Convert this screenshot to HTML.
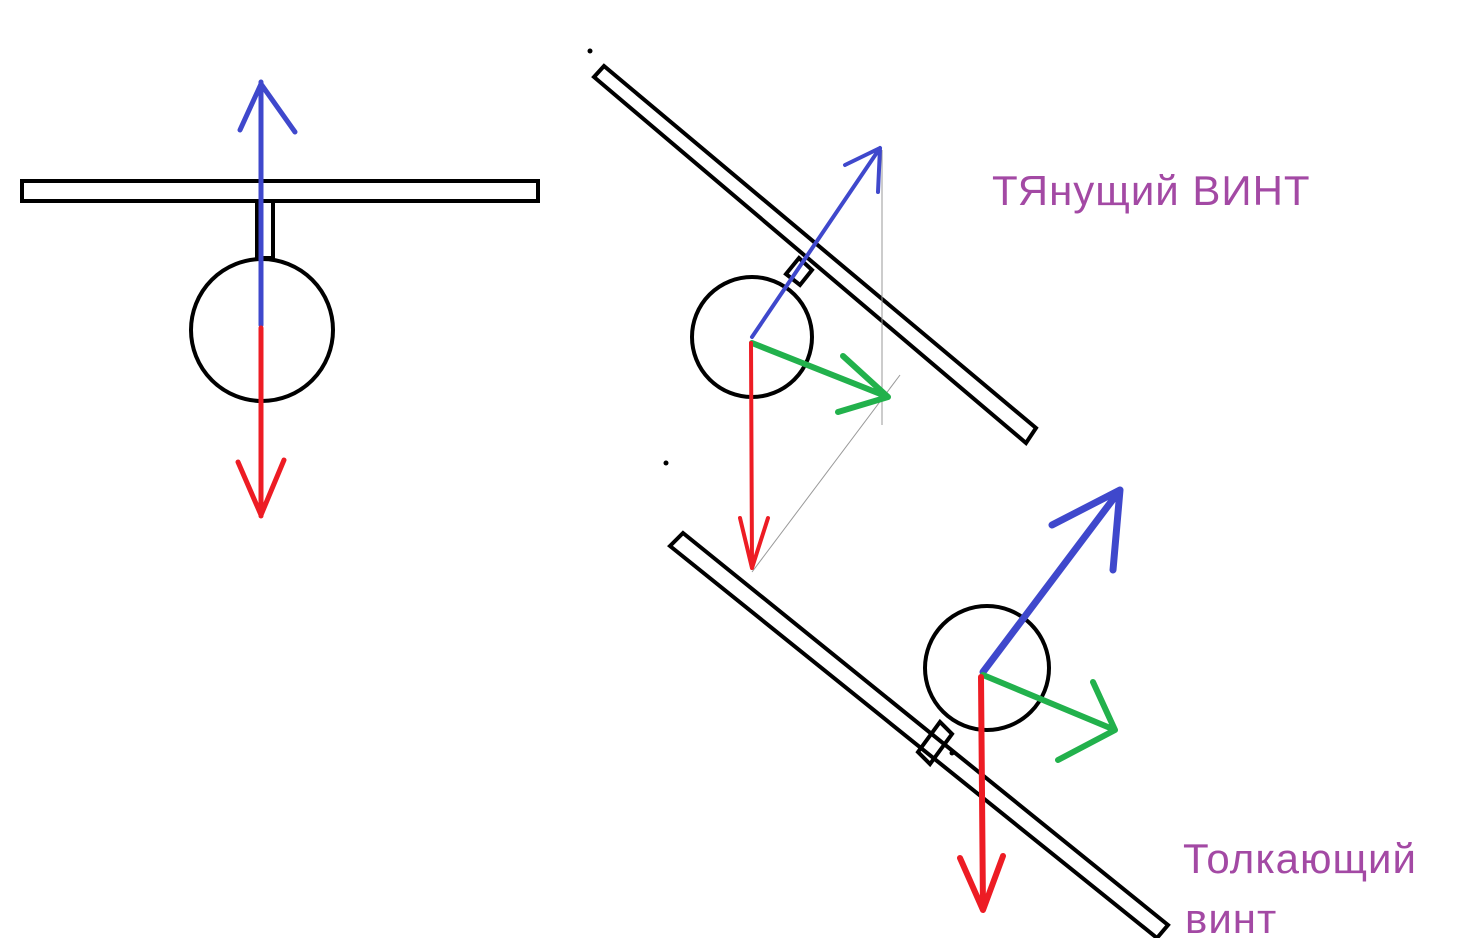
<!DOCTYPE html>
<html><head><meta charset="utf-8"><style>
html,body{margin:0;padding:0;background:#fff;}
svg{display:block}
text{font-family:"Liberation Sans","DejaVu Sans",sans-serif;fill:#a349a4;}
</style></head><body>
<svg width="1466" height="938" viewBox="0 0 1466 938" xmlns="http://www.w3.org/2000/svg">
<g fill="none" stroke="#000" stroke-width="4" stroke-linejoin="miter">
  <rect x="22" y="181" width="516" height="20"/>
  <rect x="257" y="201" width="16" height="57"/>
  <circle cx="262" cy="330" r="71"/>
  <polygon points="594,77 604,66 1036,428 1026,443"/>
  <polygon points="786,274 799,258 812,270 800,285"/>
  <circle cx="752" cy="337" r="60"/>
  <polygon points="670,546 683,533 1168,925 1157,938"/>
  <polygon points="918,752 940,722 952,734 930,764"/>
  <circle cx="987" cy="668" r="62"/>
</g>
<g fill="#000">
  <circle cx="590" cy="51" r="2.5"/>
  <circle cx="666" cy="463" r="2.5"/>
  <circle cx="952" cy="753" r="2.5"/>
</g>
<g stroke="#999" stroke-width="1" fill="none">
  <line x1="882" y1="150" x2="882" y2="425"/>
  <line x1="752" y1="572" x2="900" y2="375"/>
</g>
<g fill="none" stroke-linecap="round" stroke-linejoin="round">
  <path d="M261,325 L261,82 M240,130 L261,84 L295,132" stroke="#3f48cc" stroke-width="5"/>
  <path d="M261,328 L261,516 M238,462 L261,515 L284,460" stroke="#ed1c24" stroke-width="5"/>
  <path d="M752,337 L880,148 M845,165 L880,148 L878,192" stroke="#3f48cc" stroke-width="4"/>
  <path d="M752,343 L888,397 M843,356 L888,397 L838,412" stroke="#22b14c" stroke-width="6"/>
  <path d="M751,343 L752,568 M740,518 L752,568 L768,518" stroke="#ed1c24" stroke-width="4"/>
  <path d="M983,672 L1120,490 M1052,525 L1120,490 L1113,570" stroke="#3f48cc" stroke-width="7"/>
  <path d="M983,675 L1115,730 M1093,682 L1115,730 L1058,760" stroke="#22b14c" stroke-width="6"/>
  <path d="M981,677 L983,910 M960,858 L983,910 L1003,856" stroke="#ed1c24" stroke-width="6"/>
</g>
<text x="992" y="205" font-size="42" letter-spacing="1">ТЯнущий ВИНТ</text>
<text x="1183" y="873" font-size="42" letter-spacing="1">Толкающий</text>
<text x="1185" y="933" font-size="42" letter-spacing="1">винт</text>
</svg>
</body></html>
